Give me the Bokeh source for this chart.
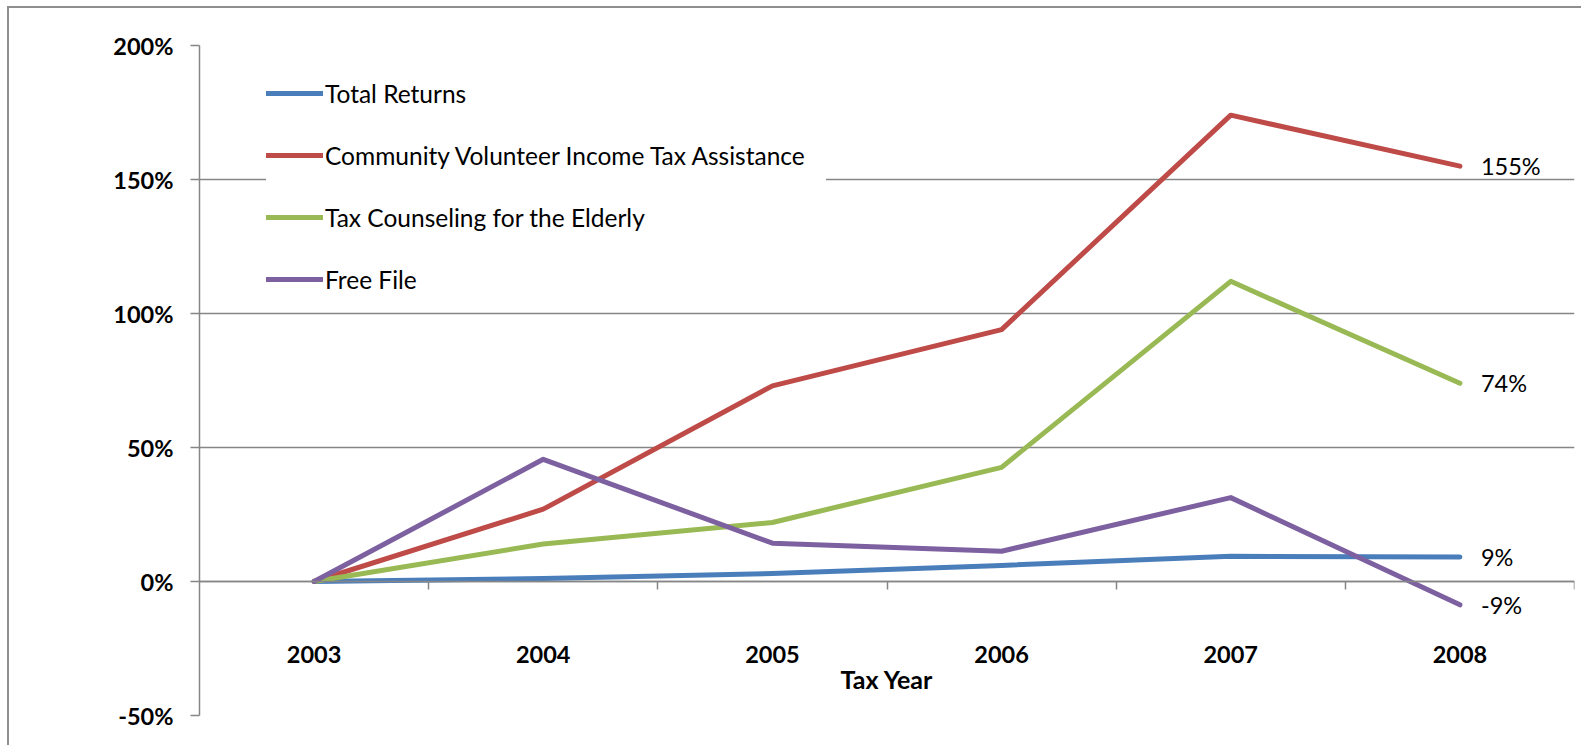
from bokeh.plotting import figure
from bokeh.models import (Legend, LegendItem, LinearAxis, FixedTicker, PrintfTickFormatter,
                          Range1d, ColumnDataSource)
from bokeh.core.properties import value
from bokeh.embed import file_html
from bokeh.resources import INLINE

# ---- data (percent change vs 2003) ----
years = ["2003", "2004", "2005", "2006", "2007", "2008"]
total_returns = [0.0, 1.1, 3.0, 6.0, 9.4, 9.1]
cvita = [0.0, 27.0, 73.0, 94.0, 174.0, 155.0]
tce = [0.0, 14.0, 22.0, 42.6, 112.0, 74.0]
free_file = [0.0, 45.6, 14.3, 11.3, 31.3, -8.7]
series_names = ["Total Returns", "Community Volunteer Income Tax Assistance",
                "Tax Counseling for the Elderly", "Free File"]
series_values = [total_returns, cvita, tce, free_file]
colors = ["#4A7EBB", "#BE4B48", "#98B954", "#7D60A0"]
y_ticks = [-50, 0, 50, 100, 150, 200]
x_label = "Tax Year"

FONT = "Lato"
GRAY = "#868686"

idx = list(range(len(years)))

p = figure(width=1574, height=739,
           x_range=Range1d(-0.5, len(years) - 0.5), y_range=Range1d(-50, 200),
           output_backend="svg", toolbar_location=None,
           min_border_left=190, min_border_top=37, min_border_right=9, min_border_bottom=32,
           background_fill_color="white", border_fill_color="white",
           outline_line_color=None, margin=(6, 0, 0, 7))
p.styles = {"border-left": "2px solid #8e8e8e", "border-top": "2px solid #8e8e8e"}

# y axis
ya = p.yaxis[0]
ya.ticker = FixedTicker(ticks=y_ticks)
ya.formatter = PrintfTickFormatter(format="%d%%")
ya.axis_line_color = GRAY
ya.axis_line_width = 1.5
ya.major_tick_line_color = GRAY
ya.major_tick_line_width = 1.5
ya.major_tick_out = 9
ya.major_tick_in = 0
ya.minor_tick_line_color = None
ya.major_label_standoff = 17
ya.major_label_text_font = FONT
ya.major_label_text_font_style = "bold"
ya.major_label_text_font_size = "23.5px"
ya.major_label_text_color = "black"

p.ygrid.grid_line_color = GRAY
p.ygrid.grid_line_width = 1.5
p.xgrid.visible = False

# year labels axis (default below axis, labels pulled up into the frame)
xa = p.xaxis[0]
xa.ticker = FixedTicker(ticks=idx)
xa.major_label_overrides = {i: y for i, y in zip(idx, years)}
xa.axis_line_color = None
xa.major_tick_line_color = None
xa.minor_tick_line_color = None
xa.major_tick_out = 0
xa.major_tick_in = 0
xa.major_label_standoff = -70
xa.major_label_text_font = FONT
xa.major_label_text_font_style = "bold"
xa.major_label_text_font_size = "23.5px"
xa.major_label_text_color = "black"
xa.axis_label = x_label
xa.axis_label_standoff = -2
xa.axis_label_text_font = FONT
xa.axis_label_text_font_style = "bold"
xa.axis_label_text_font_size = "25px"
xa.axis_label_text_color = "black"

# category boundary tick marks on the zero line (minor ticks only, no texts)
ta = LinearAxis(ticker=FixedTicker(ticks=[], minor_ticks=[i + 0.5 for i in idx]),
                fixed_location=0)
ta.axis_line_color = GRAY
ta.axis_line_width = 1.5
ta.major_tick_line_color = None
ta.minor_tick_line_color = GRAY
ta.minor_tick_line_width = 1.5
ta.minor_tick_out = 8
ta.minor_tick_in = 0
ta.major_label_standoff = 0
p.add_layout(ta, "below")

items = []
for name, vals, col in zip(series_names, series_values, colors):
    src = ColumnDataSource(dict(x=idx, y=vals))
    r = p.line("x", "y", source=src, line_color=col, line_width=5,
               line_cap="round", line_join="round")
    items.append(LegendItem(label=name, renderers=[r]))

# end-of-line value labels
end_src = ColumnDataSource(dict(
    x=[idx[-1]] * len(series_values),
    y=[v[-1] for v in series_values],
    t=["%d%%" % round(v[-1]) for v in series_values]))
p.text("x", "y", text="t", source=end_src, x_offset=21, text_baseline="middle",
       text_align="left", text_font=value(FONT), text_font_size="23.5px", text_color="black")

legend = Legend(items=items, location=(67, 420), background_fill_color="white",
                background_fill_alpha=1.0, border_line_color=None, padding=0,
                spacing=30, glyph_width=57, glyph_height=32, label_height=32,
                label_width=501, label_standoff=2, label_text_font=FONT,
                label_text_font_size="24.5px", label_text_color="black", margin=0)
p.add_layout(legend)

open("out.html", "w").write(file_html(p, INLINE))
